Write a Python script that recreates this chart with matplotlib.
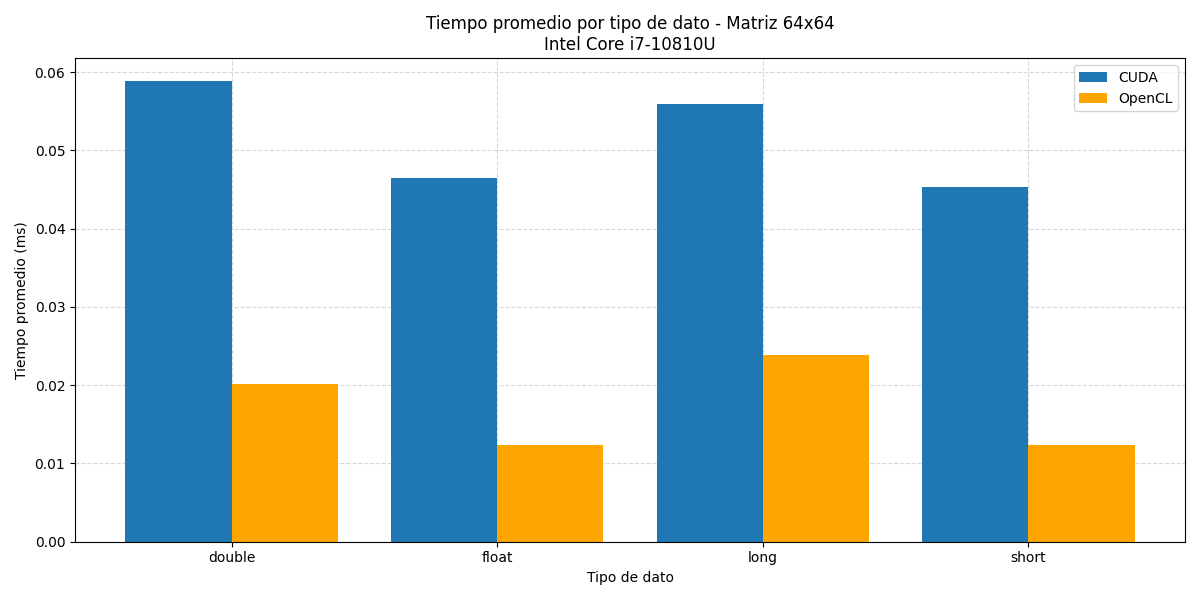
import matplotlib
matplotlib.use("Agg")
import matplotlib.pyplot as plt
import numpy as np

tipos = ["double", "float", "long", "short"]
cuda = [0.05885, 0.04644, 0.0559, 0.0453]
opencl = [0.0202, 0.0124, 0.0239, 0.0123]

x = np.arange(len(tipos))
width = 0.4

fig, ax = plt.subplots(figsize=(12, 6), dpi=100)
ax.bar(x - width / 2, cuda, width, label="CUDA", color="#1f77b4")
ax.bar(x + width / 2, opencl, width, label="OpenCL", color="orange")
ax.set_xticks(x)
ax.set_xticklabels(tipos)
ax.set_xlabel("Tipo de dato")
ax.set_ylabel("Tiempo promedio (ms)")
ax.set_title("Tiempo promedio por tipo de dato - Matriz 64x64\nIntel Core i7-10810U")
ax.legend()
ax.grid(True, linestyle="--", alpha=0.5)
ax.set_axisbelow(True)
plt.tight_layout()
plt.savefig("out.png")
